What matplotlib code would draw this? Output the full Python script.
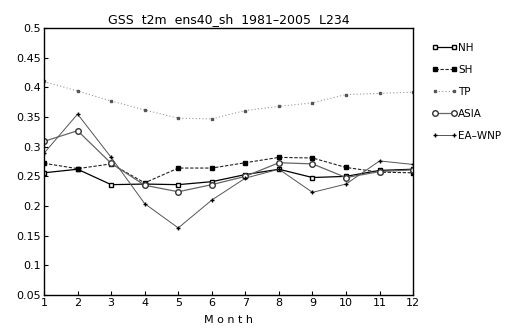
import numpy as np
import matplotlib
matplotlib.use("Agg")
import matplotlib.pyplot as plt

# monthly GSS values
months = list(range(1, 13))
nh = [0.256, 0.262, 0.236, 0.237, 0.236, 0.241, 0.253, 0.262, 0.248, 0.250, 0.260, 0.262]
sh = [0.272, 0.263, 0.271, 0.239, 0.264, 0.264, 0.273, 0.282, 0.281, 0.265, 0.257, 0.256]
tp = [0.410, 0.394, 0.377, 0.362, 0.348, 0.347, 0.361, 0.368, 0.374, 0.388, 0.390, 0.392]
asia = [0.309, 0.327, 0.272, 0.235, 0.224, 0.236, 0.250, 0.273, 0.271, 0.248, 0.258, 0.261]
eawnp = [0.289, 0.355, 0.282, 0.204, 0.163, 0.210, 0.247, 0.262, 0.223, 0.237, 0.276, 0.270]

yticks = [0.05, 0.1, 0.15, 0.2, 0.25, 0.3, 0.35, 0.4, 0.45, 0.5]
ylabels = ["0.05", "0.1", "0.15", "0.2", "0.25", "0.3", "0.35", "0.4", "0.45", "0.5"]

fig = plt.figure(figsize=(5.21, 3.31), dpi=100)
ax = fig.add_axes([0.0845, 0.109, 0.7085, 0.806])

ax.plot(months, nh, color="black", lw=0.9, marker="s", ms=3.5, mfc="white", mec="black", label="NH")
ax.plot(months, sh, color="#222222", lw=0.8, ls=(0, (3, 1.5)), marker="s", ms=2.5, mfc="black", mec="black", label="SH")
ax.plot(months, tp, color="#999999", lw=0.8, ls=(0, (1, 2)), marker="s", ms=1.8, mfc="#555555", mec="#555555", label="TP")
ax.plot(months, asia, color="#666666", lw=0.9, marker="o", ms=4, mfc="white", mec="#333333", label="ASIA")
ax.plot(months, eawnp, color="#555555", lw=0.7, marker="+", ms=3.5, mec="black", label="EA\u2013WNP")

ax.set_xlim(1, 12)
ax.set_ylim(0.05, 0.5)
ax.set_xticks(months)
ax.set_yticks(yticks)
ax.set_yticklabels(ylabels)
ax.tick_params(direction="in", length=3, width=0.8, labelsize=8, pad=2)
for s in ax.spines.values():
    s.set_linewidth(1.0)
    s.set_color("black")

ax.set_title("GSS  t2m  ens40_sh  1981\u20132005  L234", fontsize=9, pad=4)
ax.set_xlabel("M o n t h", fontsize=8, labelpad=5)

leg = ax.legend(loc="upper left", bbox_to_anchor=(1.04, 0.96), frameon=False,
                fontsize=7.5, numpoints=2, handlelength=2.4, handletextpad=0.1,
                labelspacing=1.15, borderaxespad=0)

fig.savefig("out.png", dpi=100)
